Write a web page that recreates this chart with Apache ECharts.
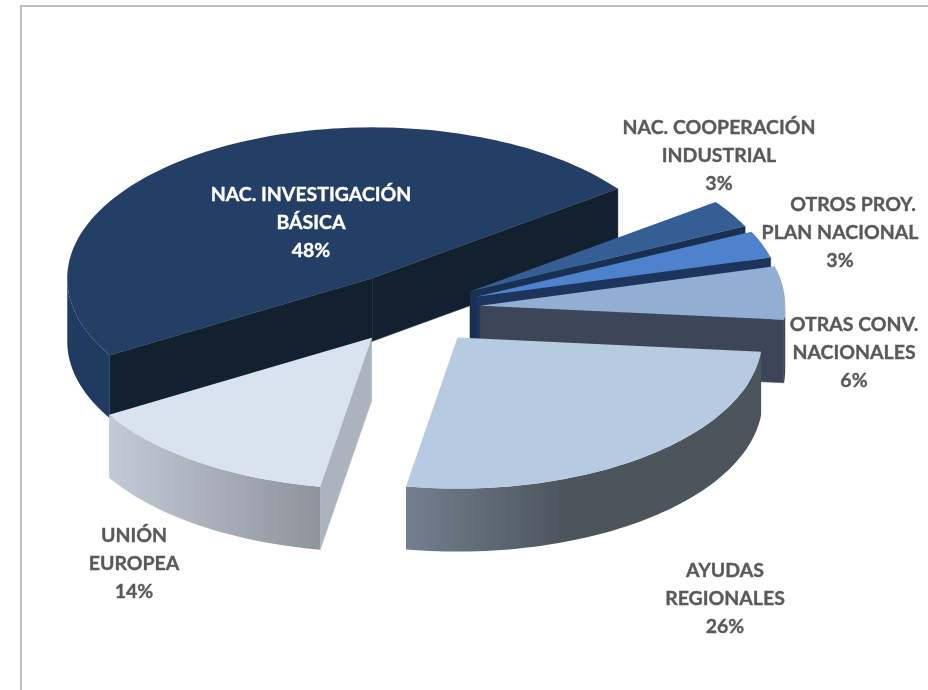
<!DOCTYPE html>
<html><head><meta charset="utf-8">
<style>html,body{margin:0;padding:0;background:#fff}#c{width:928px;height:690px}</style>
<script src="https://cdn.jsdelivr.net/npm/echarts@6/dist/echarts.min.js"></script>
</head><body><div id="c"></div>
<script>
// ---- data ----
var categories = ['NAC. INVESTIGACIÓN\nBÁSICA','NAC. COOPERACIÓN\nINDUSTRIAL','OTROS PROY.\nPLAN NACIONAL','OTRAS CONV.\nNACIONALES','AYUDAS\nREGIONALES','UNIÓN\nEUROPEA'];
var percentValues = [48.4,3,2.9,5.7,26.2,13.8];
// ---- slice explosion (radial distance on the pie plane) ----
var explode = [73,67,68,68,74,72];
// ---- styles ----
var topColors = ['#243f66','#355f94','#4f82cc','#92aed3','#b6cbe2','#d9e3f0'];
var cutColors = ['#12202f','#1a3050','#1d355c','#3d4658','#4c555c','#abb3be'];
var rimColors = [['#1f3b60','#1f3b60'],['#1a3050','#1a3050'],['#1d355c','#1d355c'],['#3d4658','#3d4658'],['#737f90','#4c555c'],['#c2cad5','#8e949c']];
var rimMidStop = [1,1,1,1,0.45,1];
var labelColors = ['#ffffff','#595959','#595959','#595959','#595959','#595959'];
var labelCentres = [[311,223],[719,156],[840,233],[854,353],[725,599],[134,564]];
var firstLineShift = [0,0,13,0,0,0];
// ---- pie geometry ----
var CX = 412.5, CY = 308.5, RX = 305, RY = 151, DEPTH = 63, START = 210.6;

var chart = echarts.init(document.getElementById('c'), null, {renderer:'canvas'});
var total = percentValues.reduce(function(a,b){return a+b;},0);
var rows = [], cursor = START;
percentValues.forEach(function(v,i){
  var a1 = cursor - v/total*360;     // clockwise, degrees
  rows.push([i, v, cursor, a1]);
  cursor = a1;
});
function pt(c, deg, dz){
  var r = deg*Math.PI/180;
  return [c[0]+RX*Math.cos(r), c[1]-RY*Math.sin(r)+(dz||0)];
}
function renderItem(params, api){
  var i = api.value(0), a0 = api.value(2), a1 = api.value(3);
  var mid = (a0+a1)/2*Math.PI/180;
  var c = [CX+explode[i]*Math.cos(mid), CY-explode[i]*RY/RX*Math.sin(mid)];
  var top = [c], k, n = Math.max(6, Math.ceil((a0-a1)/1.5));
  for(k=0;k<=n;k++) top.push(pt(c, a0+(a1-a0)*k/n));
  var kids = [];
  function wall(p,q,color){
    kids.push({type:'polygon',shape:{points:[p,q,[q[0],q[1]+DEPTH],[p[0],p[1]+DEPTH]]},
      style:{fill:color,stroke:color,lineWidth:0.5}});
  }
  // a cut face is drawn only when its outward normal faces the viewer
  if(Math.sin((a0+90)*Math.PI/180)<0) wall(c, pt(c,a0), cutColors[i]);
  if(Math.sin((a1-90)*Math.PI/180)<0) wall(c, pt(c,a1), cutColors[i]);
  // outer rim: only the part whose surface faces the viewer
  var rim=[], back=[];
  for(k=0;k<=n;k++){
    var d=a0+(a1-a0)*k/n, s=Math.sin(d*Math.PI/180);
    if(s<=0.001){ var p=pt(c,d); rim.push(p); back.unshift([p[0],p[1]+DEPTH]); }
  }
  if(rim.length>1){
    kids.push({type:'polygon',shape:{points:rim.concat(back)},style:{
      fill:new echarts.graphic.LinearGradient(0,0,1,0,[
        {offset:0,color:rimColors[i][0]},{offset:rimMidStop[i],color:rimColors[i][1]},{offset:1,color:rimColors[i][1]}]),
      stroke:null}});
  }
  kids.push({type:'polygon',shape:{points:top},style:{fill:topColors[i]}});
  return {type:'group',children:kids};
}
function labelItem(params, api){
  var i = api.value(0);
  var lines = (categories[i]+'\n'+Math.round(api.value(1))+'%').split('\n');
  return {type:'group',children:lines.map(function(t,j){
    return {type:'text',x:labelCentres[i][0]+(j===0?firstLineShift[i]:0),y:labelCentres[i][1]+(j-(lines.length-1)/2)*28,style:{
      text:t,fill:labelColors[i],stroke:labelColors[i],lineWidth:0.35,
      font:'bold 19.5px Lato, Carlito, sans-serif',align:'center',verticalAlign:'middle'}};
  })};
}
chart.setOption({
  animation:false,
  backgroundColor:'#ffffff',
  graphic:[{type:'polyline',silent:true,shape:{points:[[21,690],[21,6],[928,6]]},style:{stroke:'#bfbfbf',lineWidth:2,fill:null}}],
  series:[
    {type:'custom',coordinateSystem:'none',data:rows,renderItem:renderItem,silent:true,z:2},
    {type:'custom',coordinateSystem:'none',data:rows,renderItem:labelItem,silent:true,z:3}
  ]
});
</script></body></html>
